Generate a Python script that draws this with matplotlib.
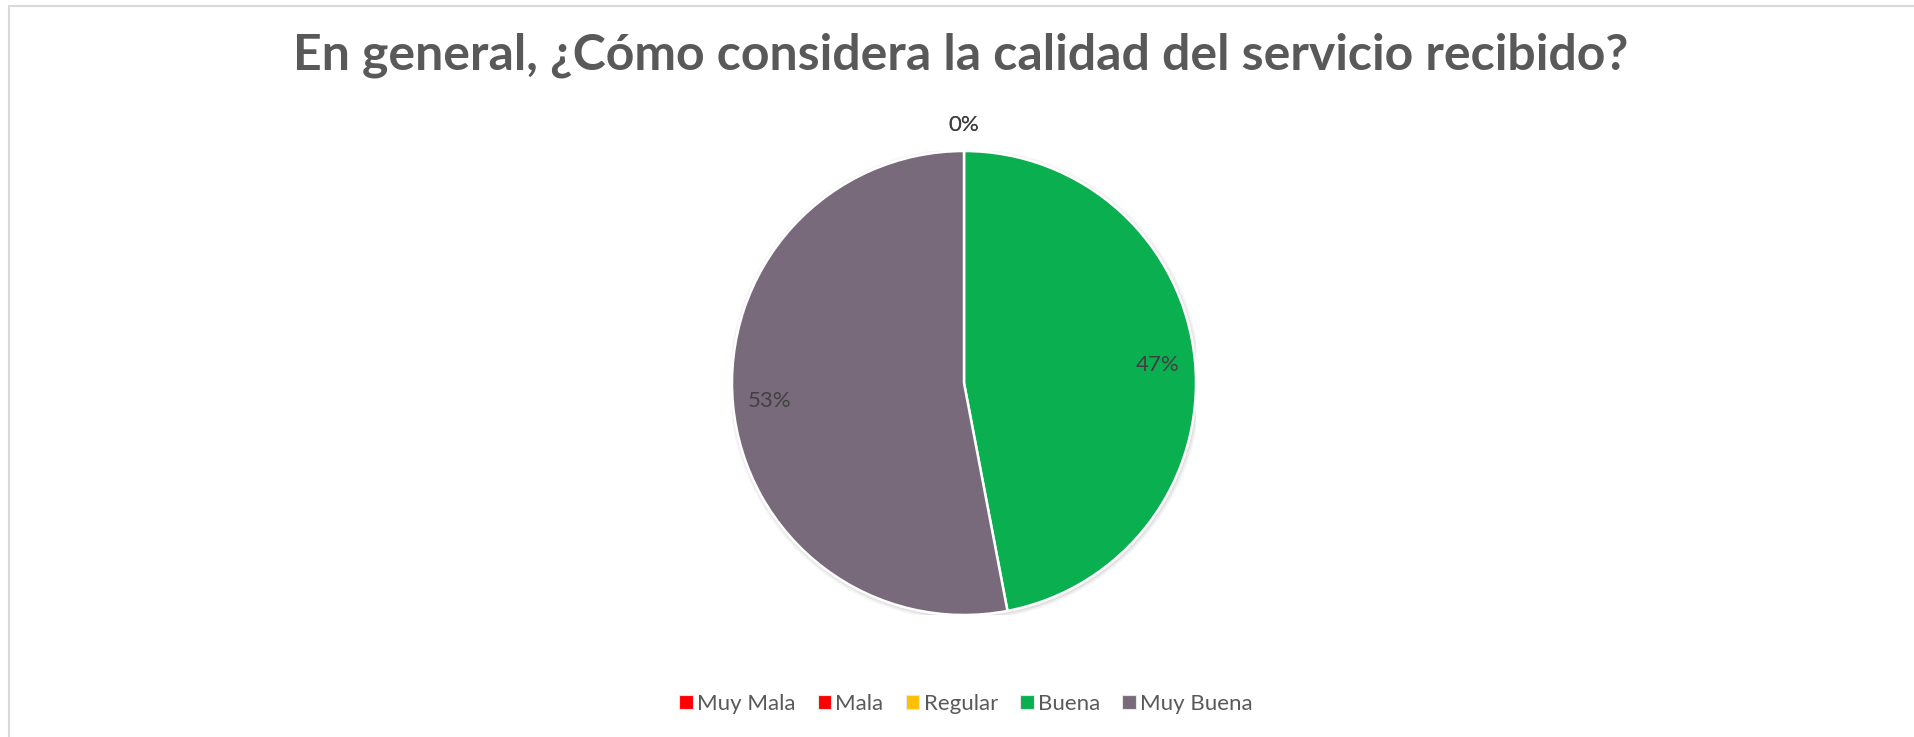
import matplotlib
matplotlib.use("Agg")
import matplotlib.pyplot as plt
from matplotlib.patches import Rectangle, Patch, Circle
import numpy as np

# Survey answers and share of responses (%)
categories = ["Muy Mala", "Mala", "Regular", "Buena", "Muy Buena"]
shares = [0, 0, 0, 47, 53]
colors = ["#FF0000", "#FF0000", "#FFC000", "#0AAF50", "#786A7A"]
title = "En general, ¿Cómo considera la calidad del servicio recibido?"

plt.rcParams["font.family"] = ["Lato", "DejaVu Sans"]

W, H = 1915, 737
fig = plt.figure(figsize=(W / 100, H / 100), dpi=100)
fig.patch.set_facecolor("white")

# Chart frame (top and left edges visible)
fig.patches.append(Rectangle((9 / W, -0.1), 1.2, (H - 6) / H + 0.1,
                             transform=fig.transFigure, fill=False,
                             edgecolor="#D9D9D9", linewidth=1.5))

fig.text(961 / W, 1 - 55 / H, title, ha="center", va="center",
         fontsize=36, fontweight="bold", color="#595959")

# Pie axes: centre (964, 383) px, radius 232 px
cx, cy, r = 964, 383, 232
ax = fig.add_axes([(cx - r) / W, 1 - (cy + r) / H, 2 * r / W, 2 * r / H])

# soft shadow under the pie
for k, a in enumerate([0.05, 0.04, 0.03]):
    ax.add_patch(Circle((0.004, -0.006), 1.0 + 0.006 * (k + 1),
                        facecolor="#000000", alpha=a, edgecolor="none", zorder=0))

wedges, _ = ax.pie(shares, colors=colors, startangle=90, counterclock=False,
                   radius=1.0, wedgeprops=dict(edgecolor="white", linewidth=1.8),
                   normalize=True)
for w in wedges:
    w.set_zorder(2)

ax.set_xlim(-1, 1)
ax.set_ylim(-1, 1)
ax.set_aspect("equal")
ax.axis("off")

total = float(sum(shares))
seen = set()
for w, v in zip(wedges, shares):
    ang = np.deg2rad((w.theta1 + w.theta2) / 2)
    dist = 1.11 if v == 0 else 0.84
    x, y = dist * np.cos(ang), dist * np.sin(ang)
    key = (round(x, 3), round(y, 3))
    if key in seen:
        continue
    seen.add(key)
    ax.text(x, y, f"{v / total * 100:.0f}%", ha="center", va="center",
            fontsize=16, color="#404040", zorder=3, clip_on=False)

handles = [Patch(facecolor=c, edgecolor="#E6E6E6", linewidth=0.8) for c in colors]
fig.legend(handles, categories, loc="center", bbox_to_anchor=(966 / W, 1 - 704 / H),
           ncol=5, frameon=False, fontsize=16, labelcolor="#595959",
           handlelength=0.6, handleheight=0.6, handletextpad=0.2,
           columnspacing=1.0)

fig.savefig("out.png", dpi=100, facecolor="white")
